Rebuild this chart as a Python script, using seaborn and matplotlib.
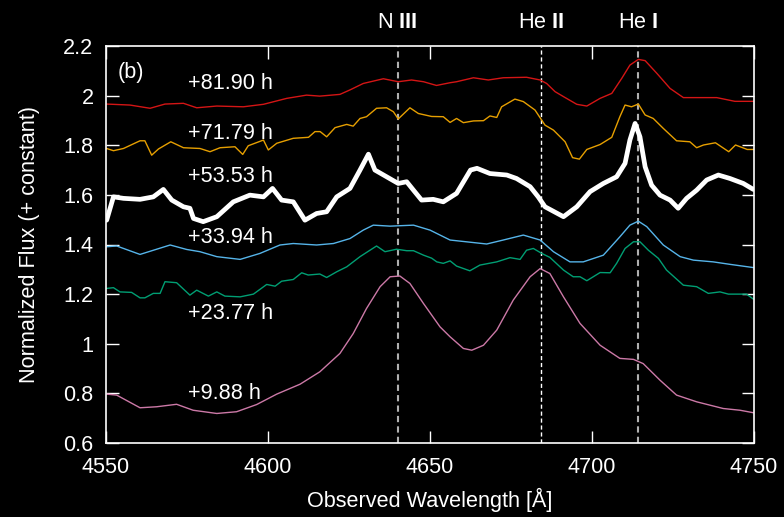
import matplotlib
matplotlib.use("Agg")
import matplotlib.pyplot as plt
import matplotlib.transforms as mtransforms
import seaborn as sns
import pandas as pd

# ---------------- data ----------------
red_w = [4550.2, 4557.4, 4563.6, 4568.2, 4573.9, 4578.0, 4584.2, 4592.4, 4598.6, 4605.8, 4611.9,
         4616.0, 4622.2, 4625.3, 4629.4, 4635.6, 4640.2, 4644.3, 4648.0, 4652.0, 4656.2, 4658.2,
         4663.4, 4668.0, 4672.6, 4679.8, 4684.0, 4686.0, 4688.6, 4691.2, 4695.3, 4698.4, 4702.5,
         4706.1, 4709.2, 4711.7, 4714.3, 4716.4, 4720.0, 4724.1, 4728.2, 4732.3, 4738.5, 4744.1, 4749.8]
red_f = [1.966, 1.962, 1.949, 1.966, 1.969, 1.951, 1.958, 1.955, 1.965, 1.989, 2.002,
         1.998, 2.005, 2.023, 2.049, 2.068, 2.056, 2.063, 2.056, 2.041, 2.052, 2.056,
         2.072, 2.063, 2.072, 2.074, 2.063, 2.049, 2.016, 1.996, 1.965, 1.958, 1.989,
         2.009, 2.070, 2.123, 2.146, 2.141, 2.090, 2.029, 1.992, 1.992, 1.992, 1.977, 1.977]

orange_w = [4550.2, 4552.3, 4555.4, 4560.5, 4562.0, 4564.1, 4566.2, 4570.0, 4573.9, 4579.0, 4582.1,
            4585.2, 4589.8, 4592.2, 4593.9, 4598.6, 4600.1, 4602.7, 4607.8, 4612.5, 4614.5, 4616.1,
            4618.1, 4620.7, 4624.3, 4626.3, 4628.4, 4630.4, 4633.5, 4636.6, 4638.7, 4640.2, 4643.8,
            4646.4, 4650.5, 4654.1, 4656.2, 4658.2, 4660.3, 4663.4, 4666.5, 4668.5, 4670.6, 4672.1,
            4676.2, 4678.8, 4682.4, 4685.5, 4688.1, 4691.7, 4694.0, 4696.1, 4698.4, 4702.5, 4706.1,
            4708.6, 4710.2, 4712.2, 4714.3, 4716.4, 4718.9, 4722.0, 4726.1, 4730.2, 4732.3, 4734.4,
            4738.1, 4742.2, 4744.3, 4747.9, 4749.9]
orange_f = [1.787, 1.778, 1.787, 1.818, 1.818, 1.760, 1.785, 1.814, 1.790, 1.787, 1.774,
            1.790, 1.794, 1.763, 1.798, 1.821, 1.781, 1.808, 1.828, 1.832, 1.855, 1.855,
            1.834, 1.871, 1.884, 1.877, 1.908, 1.915, 1.949, 1.951, 1.935, 1.906, 1.951,
            1.928, 1.916, 1.915, 1.892, 1.908, 1.891, 1.898, 1.899, 1.918, 1.912, 1.955,
            1.986, 1.976, 1.942, 1.881, 1.861, 1.814, 1.750, 1.744, 1.783, 1.803, 1.832,
            1.915, 1.962, 1.955, 1.966, 1.922, 1.908, 1.868, 1.818, 1.814, 1.790, 1.801,
            1.810, 1.774, 1.801, 1.783, 1.783]

white_w = [4550.2, 4552.3, 4555.4, 4560.5, 4564.6, 4567.7, 4570.3, 4573.9, 4575.9, 4577.0, 4580.0,
           4584.2, 4589.3, 4594.4, 4598.6, 4601.4, 4604.2, 4607.8, 4611.4, 4615.0, 4618.1, 4621.2,
           4625.3, 4628.4, 4631.0, 4633.0, 4636.6, 4640.2, 4642.8, 4644.9, 4647.4, 4651.0, 4654.1,
           4658.2, 4662.5, 4664.5, 4668.5, 4673.7, 4676.7, 4680.9, 4683.4, 4685.5, 4691.2, 4695.3,
           4699.4, 4703.5, 4707.6, 4710.2, 4711.7, 4713.3, 4714.8, 4716.4, 4718.4, 4721.0, 4724.1,
           4726.6, 4729.2, 4732.3, 4735.4, 4739.0, 4742.6, 4746.7, 4749.8]
white_f = [1.498, 1.592, 1.586, 1.582, 1.592, 1.622, 1.579, 1.552, 1.546, 1.505, 1.492,
           1.512, 1.572, 1.599, 1.592, 1.626, 1.579, 1.572, 1.498, 1.525, 1.532, 1.592,
           1.626, 1.700, 1.764, 1.700, 1.673, 1.646, 1.653, 1.619, 1.579, 1.582, 1.572,
           1.606, 1.700, 1.707, 1.686, 1.680, 1.666, 1.633, 1.592, 1.552, 1.512, 1.552,
           1.613, 1.646, 1.673, 1.727, 1.821, 1.888, 1.834, 1.713, 1.639, 1.599, 1.579,
           1.546, 1.586, 1.619, 1.660, 1.680, 1.666, 1.646, 1.622]

blue_w = [4550.2, 4553.3, 4560.5, 4569.8, 4574.9, 4579.0, 4584.2, 4591.4, 4597.5, 4603.7, 4607.8,
          4615.0, 4620.2, 4625.3, 4629.4, 4632.5, 4637.7, 4644.9, 4650.0, 4656.2, 4667.5, 4672.6,
          4678.8, 4684.0, 4688.1, 4693.2, 4697.3, 4703.5, 4708.6, 4711.7, 4714.3, 4716.9, 4722.0,
          4727.2, 4731.3, 4737.4, 4742.6, 4749.8]
blue_f = [1.391, 1.394, 1.360, 1.398, 1.380, 1.371, 1.351, 1.340, 1.364, 1.398, 1.404,
          1.398, 1.404, 1.424, 1.458, 1.478, 1.474, 1.478, 1.458, 1.418, 1.402, 1.418,
          1.438, 1.418, 1.371, 1.330, 1.330, 1.357, 1.431, 1.478, 1.494, 1.472, 1.398,
          1.351, 1.337, 1.330, 1.320, 1.307]

green_w = [4550.2, 4552.3, 4554.3, 4557.9, 4560.5, 4562.0, 4564.6, 4566.7, 4568.2, 4571.8, 4575.9,
           4578.0, 4581.6, 4584.2, 4586.7, 4591.4, 4595.5, 4599.6, 4602.2, 4604.2, 4607.8, 4610.4,
           4612.4, 4616.0, 4618.1, 4621.2, 4624.3, 4628.4, 4633.5, 4636.1, 4639.7, 4642.8, 4644.9,
           4648.0, 4650.5, 4652.1, 4654.1, 4656.2, 4658.2, 4662.3, 4665.4, 4670.6, 4674.7, 4677.8,
           4679.8, 4681.9, 4684.5, 4687.0, 4691.2, 4694.2, 4696.3, 4698.4, 4702.5, 4705.6, 4707.6,
           4710.2, 4712.8, 4714.8, 4717.4, 4720.5, 4723.0, 4728.2, 4732.3, 4735.9, 4739.5, 4742.1,
           4747.7, 4749.8]
green_f = [1.223, 1.226, 1.209, 1.207, 1.185, 1.185, 1.203, 1.203, 1.250, 1.246, 1.196,
           1.216, 1.192, 1.209, 1.192, 1.189, 1.200, 1.239, 1.232, 1.252, 1.259, 1.286,
           1.277, 1.281, 1.267, 1.290, 1.310, 1.351, 1.394, 1.371, 1.381, 1.375, 1.375,
           1.357, 1.345, 1.330, 1.324, 1.334, 1.313, 1.294, 1.317, 1.330, 1.347, 1.340,
           1.377, 1.384, 1.364, 1.348, 1.297, 1.270, 1.270, 1.254, 1.287, 1.286, 1.324,
           1.384, 1.411, 1.411, 1.377, 1.344, 1.297, 1.236, 1.230, 1.203, 1.209, 1.200,
           1.200, 1.180]

pink_w = [4550.2, 4553.3, 4560.5, 4565.6, 4571.8, 4576.9, 4584.2, 4590.3, 4596.5, 4602.7, 4609.9,
          4616.0, 4622.2, 4626.3, 4630.4, 4634.6, 4637.7, 4640.7, 4643.8, 4648.0, 4653.1, 4656.2,
          4660.3, 4662.9, 4666.5, 4670.6, 4675.7, 4680.9, 4684.0, 4687.0, 4691.2, 4696.3, 4702.5,
          4708.6, 4712.8, 4715.8, 4721.0, 4726.1, 4732.3, 4740.5, 4745.7, 4749.8]
pink_f = [0.797, 0.793, 0.742, 0.746, 0.756, 0.732, 0.719, 0.726, 0.755, 0.797, 0.837,
          0.887, 0.961, 1.041, 1.142, 1.230, 1.270, 1.273, 1.243, 1.162, 1.068, 1.028,
          0.981, 0.974, 0.994, 1.055, 1.176, 1.270, 1.303, 1.283, 1.189, 1.082, 0.994,
          0.941, 0.937, 0.920, 0.853, 0.793, 0.766, 0.739, 0.732, 0.722]

epochs = ["+81.90 h", "+71.79 h", "+53.53 h", "+33.94 h", "+23.77 h", "+9.88 h"]
label_flux = [2.050, 1.848, 1.673, 1.429, 1.122, 0.800]

line_ids = ["N III", "He II", "He I"]
line_wl = [4640.0, 4684.2, 4714.3]

y_ticks = [0.6, 0.8, 1.0, 1.2, 1.4, 1.6, 1.8, 2.0, 2.2]
y_ticklabels = ["0.6", "0.8", "1", "1.2", "1.4", "1.6", "1.8", "2", "2.2"]
x_ticks = [4550, 4600, 4650, 4700, 4750]

# ---------------- style ----------------
sns.set_theme(style="dark")
plt.rcParams["font.family"] = ["Liberation Sans", "DejaVu Sans"]
plt.rcParams["mathtext.fontset"] = "custom"
plt.rcParams["mathtext.rm"] = "Liberation Sans"
plt.rcParams["mathtext.bf"] = "Liberation Sans:bold"

FS = 15.6
fig = plt.figure(figsize=(7.84, 5.17), dpi=100, facecolor="black")
ax = fig.add_axes([106 / 784, 74 / 517, 648 / 784, 397 / 517])
ax.set_facecolor("black")

series = [
    (red_w, red_f, "#d41515", 1.0),
    (orange_w, orange_f, "#e69f00", 1.0),
    (white_w, white_f, "white", 3.4),
    (blue_w, blue_f, "#56b4e9", 1.0),
    (green_w, green_f, "#009e73", 1.0),
    (pink_w, pink_f, "#cc79a7", 1.0),
]
for (w, f, c, lw), name in zip(series, epochs):
    df = pd.DataFrame({"wl": w, "flux": f})
    sns.lineplot(data=df, x="wl", y="flux", ax=ax, color=c, lw=lw, sort=False,
                 estimator=None, legend=False)

# dashed identification lines
for wl, c, lw in zip(line_wl, ["#b0b0b0", "white", "#b0b0b0"], [1.5, 1.0, 1.5]):
    ax.axvline(wl, color=c, lw=lw, ls=(0, (3, 2)), zorder=1)

ax.set_xlim(4550, 4750)
ax.set_ylim(0.6, 2.2)
ax.set_xticks(x_ticks)
ax.set_yticks(y_ticks)
ax.set_yticklabels(y_ticklabels)
ax.tick_params(axis="both", which="both", direction="in", length=9, width=1,
               color="white", labelcolor="white", labelsize=FS, top=True, right=True,
               bottom=True, left=True)
ax.tick_params(axis="y", pad=9)
ax.tick_params(axis="x", pad=10)
for s in ax.spines.values():
    s.set_visible(True)
    s.set_color("white")
    s.set_linewidth(1.2)
ax.grid(False)

ax.set_xlabel("Observed Wavelength [Å]", color="white", fontsize=FS, labelpad=7)
ax.set_ylabel("Normalized Flux (+ constant)", color="white", fontsize=FS, labelpad=17)

ax.text(0.0185, 0.932, "(b)", transform=ax.transAxes, color="white", fontsize=FS,
        ha="left", va="center")
for name, yv in zip(epochs, label_flux):
    ax.text(4575.2, yv, name, color="white", fontsize=FS, ha="left", va="center")

trans = mtransforms.blended_transform_factory(ax.transData, ax.transAxes)
for name, wl in zip(line_ids, line_wl):
    el, ion = name.split(" ")
    ax.text(wl, 1.059, el + r" $\mathbf{" + ion + "}$", transform=trans, color="white",
            fontsize=FS, ha="center", va="center")

fig.savefig("out.png", dpi=100, facecolor="black")
